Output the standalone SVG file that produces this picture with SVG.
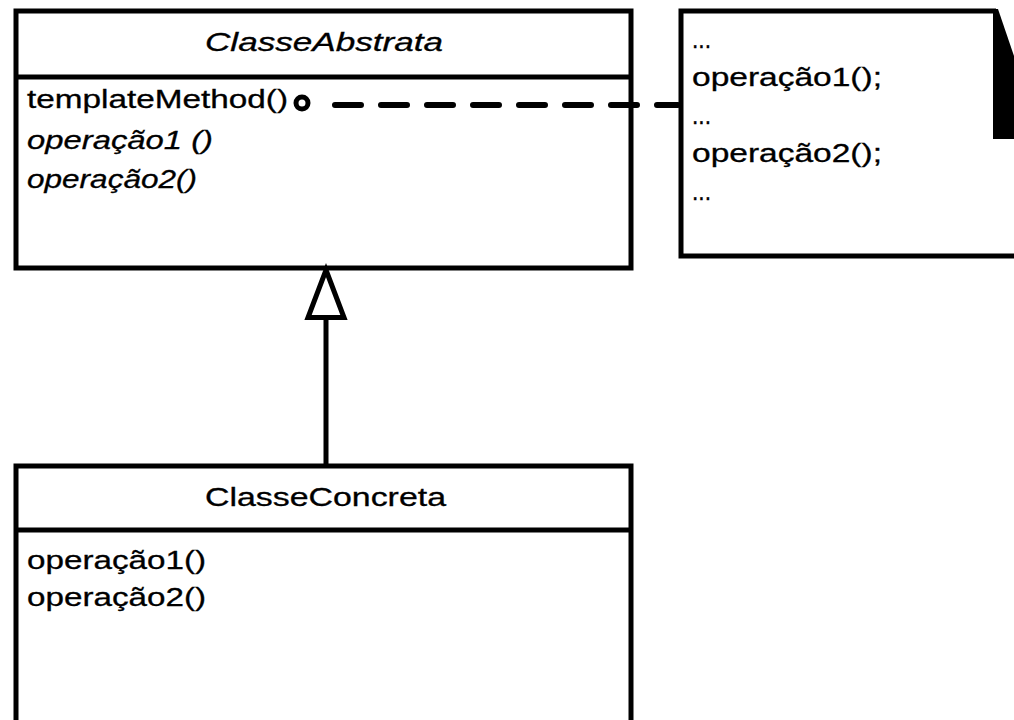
<svg xmlns="http://www.w3.org/2000/svg" width="1014" height="720" viewBox="0 0 1014 720">
<style>
.box{fill:#fff;stroke:#000;stroke-width:5}
.ln{stroke:#000;stroke-width:5;fill:none}
text{font-family:"Liberation Sans",Arial,sans-serif;font-size:25px;fill:#000;stroke:#000;stroke-width:0.3}
.it{font-style:italic}
</style>
<rect width="1014" height="720" fill="#fff"/>
<g id="ClasseAbstrata">
<rect class="box" x="16" y="11" width="615" height="257"/>
<line class="ln" x1="16" y1="77" x2="631" y2="77"/>
<text class="it" x="205" y="51" textLength="238" lengthAdjust="spacingAndGlyphs">ClasseAbstrata</text>
<text x="27" y="108" textLength="261" lengthAdjust="spacingAndGlyphs">templateMethod()</text>
<text class="it" x="27" y="149" textLength="186" lengthAdjust="spacingAndGlyphs">operação1 ()</text>
<text class="it" x="27" y="188" textLength="170" lengthAdjust="spacingAndGlyphs">operação2()</text>
</g>
<g id="Nota">
<path class="ln" d="M1030,256 L681,256 L681,11 L996,11"/>
<polygon points="993,9 998,9 1016,62 1016,139 993,139" fill="#000"/>
<text x="692" y="48" textLength="19" lengthAdjust="spacingAndGlyphs">...</text>
<text x="692" y="86" textLength="190" lengthAdjust="spacingAndGlyphs">operação1();</text>
<text x="692" y="124" textLength="19" lengthAdjust="spacingAndGlyphs">...</text>
<text x="692" y="162" textLength="190" lengthAdjust="spacingAndGlyphs">operação2();</text>
<text x="692" y="200" textLength="19" lengthAdjust="spacingAndGlyphs">...</text>
</g>
<g id="ClasseConcreta">
<rect class="box" x="16" y="466" width="615" height="280"/>
<line class="ln" x1="16" y1="530" x2="631" y2="530"/>
<text x="205" y="506" textLength="241" lengthAdjust="spacingAndGlyphs">ClasseConcreta</text>
<text x="27" y="569" textLength="179" lengthAdjust="spacingAndGlyphs">operação1()</text>
<text x="27" y="606" textLength="179" lengthAdjust="spacingAndGlyphs">operação2()</text>
</g>
<g id="conectores">
<circle cx="302" cy="103" r="6" fill="#fff" stroke="#000" stroke-width="5"/>
<line x1="335" y1="105" x2="678" y2="105" stroke="#000" stroke-width="6" stroke-linecap="round" stroke-dasharray="26 20"/>
<line class="ln" x1="326" y1="320" x2="326" y2="466"/>
<polygon points="326,270 344,317.5 308,317.5" fill="#fff" stroke="#000" stroke-width="5" stroke-linejoin="miter"/>
</g>
</svg>
